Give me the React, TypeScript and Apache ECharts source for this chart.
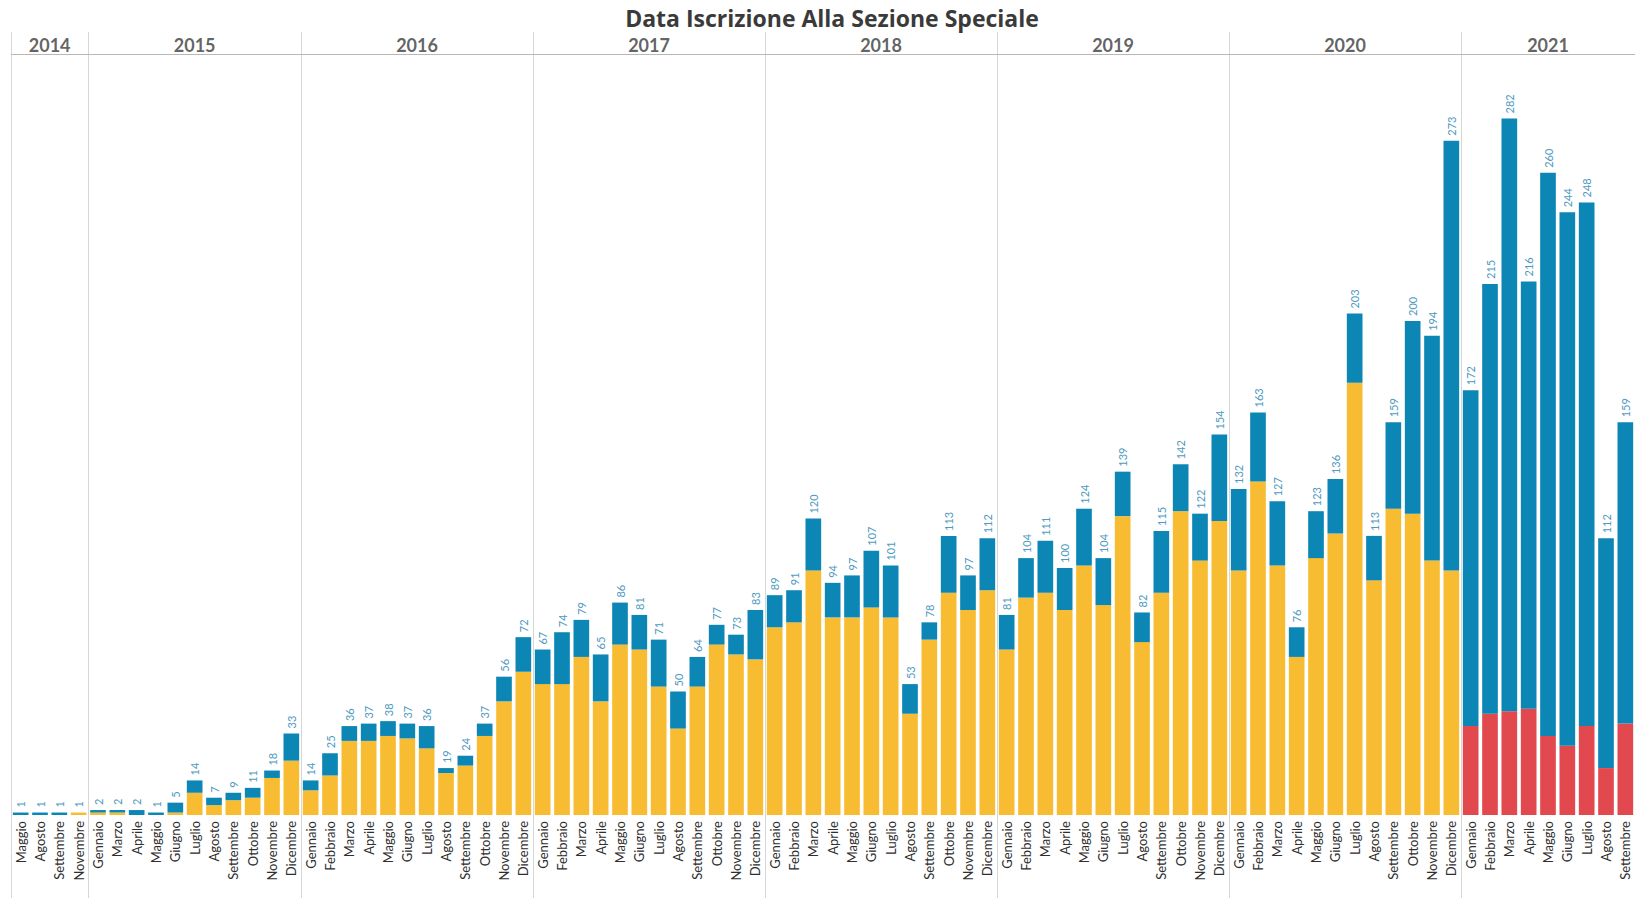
import React, { useEffect, useRef } from "react";
import * as echarts from "echarts";

const titleText = "Data Iscrizione Alla Sezione Speciale";

const years = ["2014", "2015", "2016", "2017", "2018", "2019", "2020", "2021"];
const yearCounts = [4, 11, 12, 12, 12, 12, 12, 9];

const months = [
  "Maggio", "Agosto", "Settembre", "Novembre",
  "Gennaio", "Marzo", "Aprile", "Maggio", "Giugno", "Luglio", "Agosto", "Settembre", "Ottobre", "Novembre", "Dicembre",
  "Gennaio", "Febbraio", "Marzo", "Aprile", "Maggio", "Giugno", "Luglio", "Agosto", "Settembre", "Ottobre", "Novembre", "Dicembre",
  "Gennaio", "Febbraio", "Marzo", "Aprile", "Maggio", "Giugno", "Luglio", "Agosto", "Settembre", "Ottobre", "Novembre", "Dicembre",
  "Gennaio", "Febbraio", "Marzo", "Aprile", "Maggio", "Giugno", "Luglio", "Agosto", "Settembre", "Ottobre", "Novembre", "Dicembre",
  "Gennaio", "Febbraio", "Marzo", "Aprile", "Maggio", "Giugno", "Luglio", "Agosto", "Settembre", "Ottobre", "Novembre", "Dicembre",
  "Gennaio", "Febbraio", "Marzo", "Aprile", "Maggio", "Giugno", "Luglio", "Agosto", "Settembre", "Ottobre", "Novembre", "Dicembre",
  "Gennaio", "Febbraio", "Marzo", "Aprile", "Maggio", "Giugno", "Luglio", "Agosto", "Settembre",
];

const totals = [
  1, 1, 1, 1,
  2, 2, 2, 1, 5, 14, 7, 9, 11, 18, 33,
  14, 25, 36, 37, 38, 37, 36, 19, 24, 37, 56, 72,
  67, 74, 79, 65, 86, 81, 71, 50, 64, 77, 73, 83,
  89, 91, 120, 94, 97, 107, 101, 53, 78, 113, 97, 112,
  81, 104, 111, 100, 124, 104, 139, 82, 115, 142, 122, 154,
  132, 163, 127, 76, 123, 136, 203, 113, 159, 200, 194, 273,
  172, 215, 282, 216, 260, 244, 248, 112, 159,
];

const yellowValues = [
  0, 0, 0, 1,
  1, 1, 0, 0, 1, 9, 4, 6, 7, 15, 22,
  10, 16, 30, 30, 32, 31, 27, 17, 20, 32, 46, 58,
  53, 53, 64, 46, 69, 67, 52, 35, 52, 69, 65, 63,
  76, 78, 99, 80, 80, 84, 80, 41, 71, 90, 83, 91,
  67, 88, 90, 83, 101, 85, 121, 70, 90, 123, 103, 119,
  99, 135, 101, 64, 104, 114, 175, 95, 124, 122, 103, 99,
  0, 0, 0, 0, 0, 0, 0, 0, 0,
];

const redValues = [
  0, 0, 0, 0,
  0, 0, 0, 0, 0, 0, 0, 0, 0, 0, 0,
  0, 0, 0, 0, 0, 0, 0, 0, 0, 0, 0, 0,
  0, 0, 0, 0, 0, 0, 0, 0, 0, 0, 0, 0,
  0, 0, 0, 0, 0, 0, 0, 0, 0, 0, 0, 0,
  0, 0, 0, 0, 0, 0, 0, 0, 0, 0, 0, 0,
  0, 0, 0, 0, 0, 0, 0, 0, 0, 0, 0, 0,
  36, 41, 42, 43, 32, 28, 36, 19, 37,
];

const blueValues = totals.map((t, i) => t - yellowValues[i] - redValues[i]);

const FONT = "Lato, 'Noto Sans', sans-serif";
const TITLE_FONT = "'Open Sans', Lato, sans-serif";

export default function App() {
  const ref = useRef<HTMLDivElement>(null);

  useEffect(() => {
    if (!ref.current) return;
    const chart = echarts.init(ref.current, undefined, { renderer: "svg" });

    const boundaries: number[] = [];
    const yearCenters: { value: number[]; name: string }[] = [];
    let acc = 0;
    yearCounts.forEach((c, i) => {
      boundaries.push(acc);
      yearCenters.push({ value: [acc + c / 2, 13], name: years[i] });
      acc += c;
    });
    const totalCats = acc;

    const option: any = {
      animation: false,
      backgroundColor: "#ffffff",
      graphic: [
        {
          type: "text",
          x: 832,
          y: 18,
          style: {
            text: titleText,
            font: `bold 23px ${TITLE_FONT}`,
            fill: "#3a3a3a",
            textAlign: "center",
            textVerticalAlign: "middle",
          },
        },
      ],
      grid: [
        { left: 11, right: 0, top: 74, bottom: 83 },
        { left: 11, right: 0, top: 32, bottom: 0 },
      ],
      xAxis: [
        {
          type: "category",
          gridIndex: 0,
          data: months,
          axisLine: { show: false },
          axisTick: { show: false },
          axisLabel: {
            interval: 0,
            rotate: 90,
            margin: 6,
            fontFamily: FONT,
            fontSize: 13,
            color: "#2e2e2e",
          },
        },
        {
          type: "value",
          gridIndex: 1,
          min: 0,
          max: totalCats,
          show: false,
        },
      ],
      yAxis: [
        { type: "value", gridIndex: 0, min: 0, max: 300, show: false },
        { type: "value", gridIndex: 1, min: 0, max: 866, inverse: true, show: false },
      ],
      series: [
        {
          name: "yellow",
          type: "bar",
          stack: "s",
          xAxisIndex: 0,
          yAxisIndex: 0,
          barCategoryGap: "19%",
          data: yellowValues,
          itemStyle: { color: "#F7BC32" },
        },
        {
          name: "red",
          type: "bar",
          stack: "s",
          xAxisIndex: 0,
          yAxisIndex: 0,
          barCategoryGap: "19%",
          data: redValues,
          itemStyle: { color: "#E2494E" },
        },
        {
          name: "blue",
          type: "bar",
          stack: "s",
          xAxisIndex: 0,
          yAxisIndex: 0,
          barCategoryGap: "19%",
          data: blueValues,
          itemStyle: { color: "#0C86B4" },
          label: {
            show: true,
            position: "top",
            rotate: 90,
            align: "left",
            verticalAlign: "middle",
            distance: 5,
            fontFamily: FONT,
            fontSize: 11,
            color: "#4f9ac0",
            formatter: (p: any) => String(totals[p.dataIndex]),
          },
        },
        {
          name: "years",
          type: "scatter",
          xAxisIndex: 1,
          yAxisIndex: 1,
          symbolSize: 1,
          itemStyle: { color: "rgba(0,0,0,0)" },
          silent: true,
          data: yearCenters,
          label: {
            show: true,
            position: "inside",
            formatter: "{b}",
            fontFamily: FONT,
            fontWeight: "bold",
            fontSize: 18,
            color: "#3a3a3a",
          },
          markLine: {
            silent: true,
            symbol: ["none", "none"],
            label: { show: false },
            lineStyle: { color: "#d6d6d6", width: 1, type: "solid" },
            data: [
              ...boundaries.map((b) => ({ xAxis: b })),
              { yAxis: 22, lineStyle: { color: "#b8b8b8", width: 1, type: "solid" } },
            ],
          },
        },
      ],
    };

    chart.setOption(option);
    return () => chart.dispose();
  }, []);

  return (
    <div
      ref={ref}
      style={{ position: "fixed", left: 0, top: 0, width: 1635, height: 898, background: "#fff" }}
    />
  );
}
